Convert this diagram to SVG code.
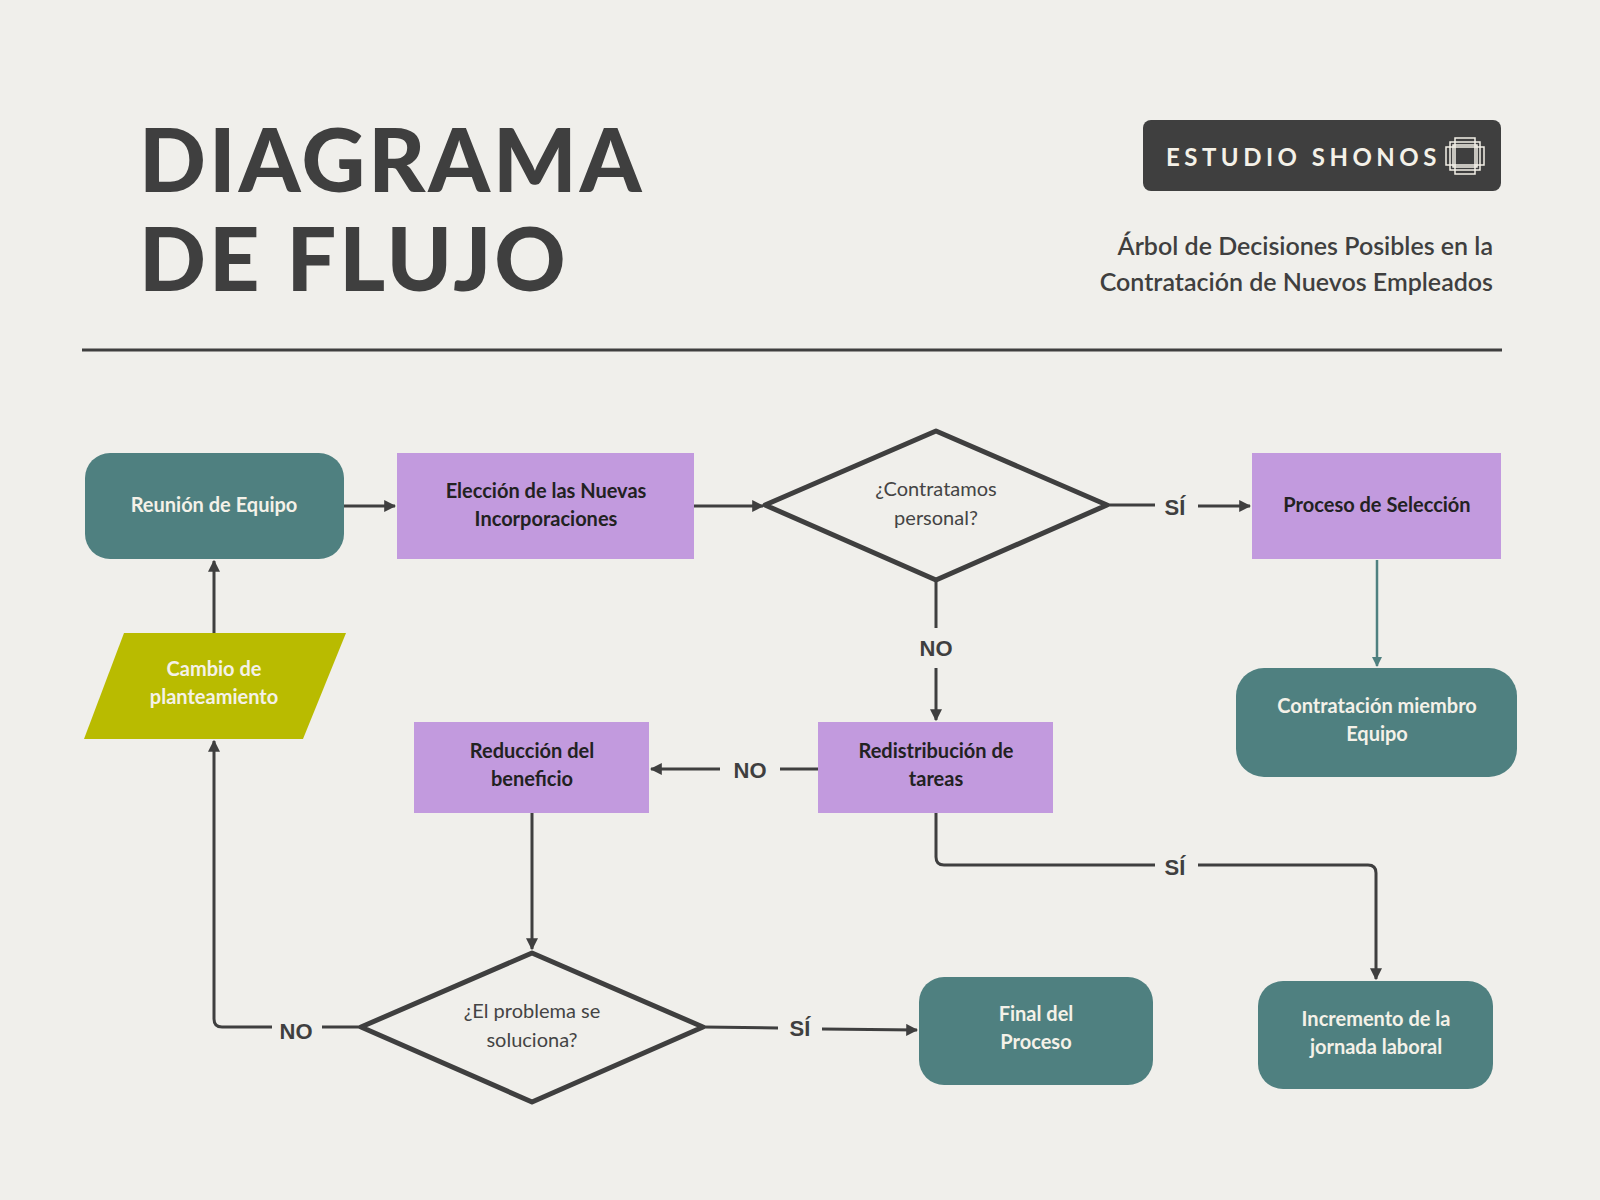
<svg xmlns="http://www.w3.org/2000/svg" width="1600" height="1200" viewBox="0 0 1600 1200">
<defs>
<style>
.t{font-family:Lato,"Noto Sans",sans-serif;font-size:20px;text-anchor:middle}
.w{fill:#f4f1e8;font-weight:bold}
.k{fill:#222;font-weight:bold}
.d{fill:#444;font-size:20px}
.lab{font-family:"Liberation Sans",sans-serif;font-weight:bold;font-size:22px;fill:#3f3f3f;text-anchor:middle}
.c{fill:none;stroke:#3f3f3f;stroke-width:3}
.teal{fill:#4f8080}.pur{fill:#c29ade}
</style>
<marker id="a" viewBox="0 0 10 10" refX="9" refY="5" markerWidth="4" markerHeight="4" orient="auto"><path d="M0,0L10,5L0,10z" fill="#3f3f3f"/></marker>
<marker id="at" viewBox="0 0 10 10" refX="9" refY="5" markerWidth="4" markerHeight="4" orient="auto"><path d="M0,0L10,5L0,10z" fill="#4f8080"/></marker>
</defs>
<rect width="1600" height="1200" fill="#f0efeb"/>
<g id="title" font-family="Lato,'Noto Sans',sans-serif" font-weight="900" font-size="88" fill="#3f3f3f" letter-spacing="3">
<text x="139" y="192">DIAGRAMA</text><text x="139" y="291">DE FLUJO</text></g>
<g id="badge"><rect x="1143" y="120" width="358" height="71" rx="8" fill="#3f3f3f"/>
<text x="1166" y="166" font-family="Lato,sans-serif" font-weight="bold" font-size="24" fill="#f4f1e8" letter-spacing="4.5">ESTUDIO SHONOS</text>
<g fill="none" stroke="#f4f1e8" stroke-width="1.5"><rect x="1450" y="142" width="30" height="28"/><rect x="1455" y="138" width="20" height="36"/><rect x="1446" y="147" width="38" height="18"/><rect x="1453" y="145" width="24" height="22"/></g></g>
<g id="subtitle" font-family="Lato,sans-serif" font-size="25" fill="#3f3f3f" text-anchor="end" font-weight="600">
<text x="1493" y="255">Árbol de Decisiones Posibles en la</text><text x="1493" y="291">Contratación de Nuevos Empleados</text></g>
<line x1="82" y1="350" x2="1502" y2="350" stroke="#3f3f3f" stroke-width="3"/>
<g id="connectors">
<line class="c" x1="344" y1="506" x2="395" y2="506" marker-end="url(#a)"/>
<line class="c" x1="694" y1="506" x2="763" y2="506" marker-end="url(#a)"/>
<line class="c" x1="1107" y1="505" x2="1155" y2="505"/><line class="c" x1="1198" y1="506" x2="1250" y2="506" marker-end="url(#a)"/>
<line x1="1377" y1="560" x2="1377" y2="666" stroke="#4f8080" stroke-width="2.5" marker-end="url(#at)"/>
<line class="c" x1="936" y1="580" x2="936" y2="628"/><line class="c" x1="936" y1="668" x2="936" y2="720" marker-end="url(#a)"/>
<line class="c" x1="818" y1="769" x2="780" y2="769"/><line class="c" x1="720" y1="769" x2="651" y2="769" marker-end="url(#a)"/>
<path class="c" d="M936,813V857Q936,865 944,865H1155"/><path class="c" d="M1198,865H1368Q1376,865 1376,873V979" marker-end="url(#a)"/>
<line class="c" x1="532" y1="813" x2="532" y2="949" marker-end="url(#a)"/>
<line class="c" x1="703" y1="1027" x2="778" y2="1028"/><line class="c" x1="822" y1="1029" x2="917" y2="1030" marker-end="url(#a)"/>
<line class="c" x1="361" y1="1027" x2="322" y2="1027"/><path class="c" d="M272,1027H222Q214,1027 214,1019V741" marker-end="url(#a)"/>
<line class="c" x1="214" y1="633" x2="214" y2="561" marker-end="url(#a)"/>
<text class="lab" x="1175" y="515">SÍ</text><text class="lab" x="936" y="656">NO</text><text class="lab" x="750" y="778">NO</text>
<text class="lab" x="1175" y="875">SÍ</text><text class="lab" x="800" y="1036">SÍ</text><text class="lab" x="296" y="1039">NO</text>
</g>
<g id="reunion"><rect class="teal" x="85" y="453" width="259" height="106" rx="25"/><text class="t w" x="214" y="512">Reunión de Equipo</text></g>
<g id="eleccion"><rect class="pur" x="397" y="453" width="297" height="106"/><text class="t k" x="546" y="498">Elección de las Nuevas</text><text class="t k" x="546" y="526">Incorporaciones</text></g>
<g id="d1"><polygon points="765,505 936,431 1107,505 936,580" fill="none" stroke="#3f3f3f" stroke-width="5" stroke-linejoin="round"/><text class="t d" x="936" y="496">¿Contratamos</text><text class="t d" x="936" y="525">personal?</text></g>
<g id="proceso"><rect class="pur" x="1252" y="453" width="249" height="106"/><text class="t k" x="1377" y="512">Proceso de Selección</text></g>
<g id="contratacion"><rect class="teal" x="1236" y="668" width="281" height="109" rx="28"/><text class="t w" x="1377" y="713">Contratación miembro</text><text class="t w" x="1377" y="741">Equipo</text></g>
<g id="cambio"><polygon points="84,739 124,633 346,633 303,739" fill="#b9bb00"/><text class="t w" x="214" y="676">Cambio de</text><text class="t w" x="214" y="704">planteamiento</text></g>
<g id="redistribucion"><rect class="pur" x="818" y="722" width="235" height="91"/><text class="t k" x="936" y="758">Redistribución de</text><text class="t k" x="936" y="786">tareas</text></g>
<g id="reduccion"><rect class="pur" x="414" y="722" width="235" height="91"/><text class="t k" x="532" y="758">Reducción del</text><text class="t k" x="532" y="786">beneficio</text></g>
<g id="d2"><polygon points="361,1027 532,953 703,1027 532,1102" fill="none" stroke="#3f3f3f" stroke-width="5" stroke-linejoin="round"/><text class="t d" x="532" y="1018">¿El problema se</text><text class="t d" x="532" y="1047">soluciona?</text></g>
<g id="final"><rect class="teal" x="919" y="977" width="234" height="108" rx="25"/><text class="t w" x="1036" y="1021">Final del</text><text class="t w" x="1036" y="1049">Proceso</text></g>
<g id="incremento"><rect class="teal" x="1258" y="981" width="235" height="108" rx="25"/><text class="t w" x="1376" y="1026">Incremento de la</text><text class="t w" x="1376" y="1054">jornada laboral</text></g>
</svg>
